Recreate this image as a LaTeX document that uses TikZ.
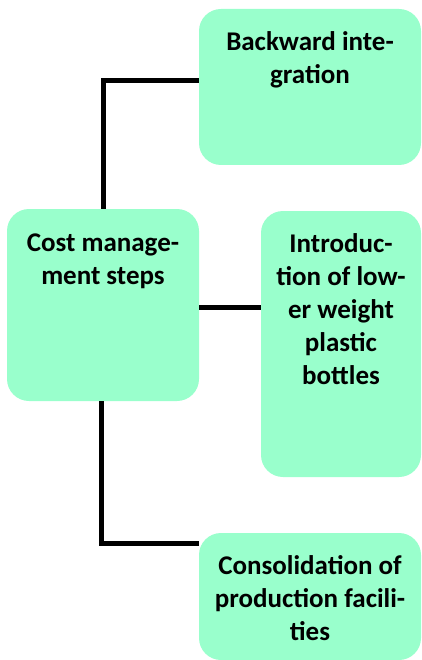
\documentclass[tikz,border=0pt]{standalone}
\usepackage{fontspec}
\setmainfont{Carlito}
\definecolor{mint}{HTML}{99FFCC}
\begin{document}
\begin{tikzpicture}[x=1pt,y=-1pt,
  box/.style={fill=mint, rounded corners=22pt, draw=none, inner sep=0pt, minimum width=#1},
  conn/.style={line width=5pt, black},
  lbl/.style={font=\bfseries\fontsize{27}{33}\selectfont, align=center, anchor=north, inner sep=0pt}]
\useasboundingbox (0,0) rectangle (422,660);
% connectors
\coordinate (j1) at (103,81);
\coordinate (jm) at (0,307);
\coordinate (j2) at (101,543);
% boxes
\node[box=222pt, minimum height=156pt] (b1) at (310,87) {};
\node[box=192pt, minimum height=192pt] (cost) at (103,305) {};
\node[box=160pt, minimum height=266pt] (b3) at (341,344) {};
\node[box=222pt, minimum height=127pt] (b4) at (310,596.5) {};
\draw[conn] (j1 |- cost.north) -- (j1) -- (j1 -| b1.west);
\draw[conn] (jm -| cost.east) -- (jm -| b3.west);
\draw[conn] (j2 |- cost.south) -- (j2) -- (j2 -| b4.west);
% labels
\node[lbl] (t1) at ([yshift=-23pt]b1.north) {Backward inte-\\gration};
\node[lbl] (tc) at ([yshift=-25pt]cost.north) {Cost manage-\\ment steps};
\node[lbl] (t3) at ([yshift=-23pt]b3.north) {Introduc-\\tion of low-\\er weight\\plastic\\bottles};
\node[lbl] (t4) at ([yshift=-23pt]b4.north) {Consolidation of\\production facili-\\ties};
\end{tikzpicture}
\end{document}
